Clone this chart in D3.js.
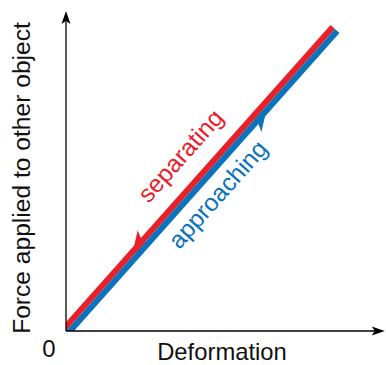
<!DOCTYPE html>
<html><head><meta charset="utf-8">
<script src="https://cdn.jsdelivr.net/npm/d3@7"></script>
<style>html,body{margin:0;padding:0;background:#fff;}svg{display:block;font-family:"Liberation Sans",Arial,Helvetica,sans-serif;}</style>
</head><body><div id="chart"></div>
<script>
// Data (arbitrary units): the loading/unloading line of a linear (elastic) contact
const deformation = [0, 10];
const force = [0, 10];
const seriesNames = ["separating", "approaching"];
const seriesColors = ["#e8202a", "#0b72bc"];
const arrowTip = [2.57, 7.36];          // deformation at which each arrow tip sits
const arrowDir = [-1, 1];               // separating runs down, approaching runs up
const axisLabels = {x: "Deformation", y: "Force applied to other object", origin: "0"};

const W = 386, H = 365;
const svg = d3.select("#chart").append("svg").attr("width", W).attr("height", H);

const x = d3.scaleLinear().domain([0, 10]).range([66, 335]);
const y = d3.scaleLinear().domain([0, 10]).range([331, 29]);
const xEnd = 11.85, yEnd = 10.6;

// geometry helpers
const p0 = [x(deformation[0]), y(force[0])], p1 = [x(deformation[1]), y(force[1])];
const len = Math.hypot(p1[0]-p0[0], p1[1]-p0[1]);
const d = [(p1[0]-p0[0])/len, (p1[1]-p0[1])/len];
const n = [d[1], -d[0]]; // up-left normal
const angle = Math.atan2(d[1], d[0]) * 180 / Math.PI;
const pt = (s, o) => [p0[0] + d[0]*s + n[0]*o, p0[1] + d[1]*s + n[1]*o];

svg.append("clipPath").attr("id", "plotClip").append("rect")
  .attr("x", x(0)).attr("y", 0).attr("width", W - x(0)).attr("height", y(0));

const g = svg.append("g").attr("clip-path", "url(#plotClip)");
const lineGen = d3.line().x((v, i) => x(deformation[i])).y((v, i) => y(v));
const bandOffset = [3, -3];
seriesNames.forEach((name, k) => {
  g.append("path").datum(force)
    .attr("d", lineGen)
    .attr("transform", `translate(${n[0]*bandOffset[k]},${n[1]*bandOffset[k]})`)
    .attr("fill", "none").attr("stroke", seriesColors[k])
    .attr("stroke-width", 6).attr("stroke-linecap", "butt");
});

// half arrowheads on outer side
seriesNames.forEach((name, k) => {
  const tipPx = [x(arrowTip[k]), y(arrowTip[k])];
  const sTip = (tipPx[0]-p0[0])*d[0] + (tipPx[1]-p0[1])*d[1];
  const dir = arrowDir[k], side = k === 0 ? 1 : -1;
  const pts = [
    pt(sTip, side*3),
    pt(sTip - dir*19, side*13.5),
    pt(sTip - dir*15, side*5.5),
    pt(sTip - dir*15, 0),
    pt(sTip - dir*2, 0)
  ];
  g.append("polygon").attr("points", pts.map(p => p.join(",")).join(" "))
    .attr("fill", seriesColors[k]);
});

// axes
svg.append("line").attr("x1", x(0)).attr("y1", y(0)).attr("x2", x(0)).attr("y2", y(yEnd) + 4)
  .attr("stroke", "#000").attr("stroke-width", 1.3);
svg.append("line").attr("x1", x(0)).attr("y1", y(0)).attr("x2", x(xEnd) - 4).attr("y2", y(0))
  .attr("stroke", "#000").attr("stroke-width", 1.3);
// arrowheads on axes
const ay = [x(0), y(yEnd)], ax = [x(xEnd), y(0)];
svg.append("path").attr("d", `M${ay[0]},${ay[1]} L${ay[0]+4.5},${ay[1]+13} L${ay[0]},${ay[1]+10} L${ay[0]-4.5},${ay[1]+13}Z`).attr("fill", "#000");
svg.append("path").attr("d", `M${ax[0]},${ax[1]} L${ax[0]-13},${ax[1]-4.5} L${ax[0]-10},${ax[1]} L${ax[0]-13},${ax[1]+4.5}Z`).attr("fill", "#000");

// axis labels
svg.append("text").attr("x", 222).attr("y", 360).attr("text-anchor", "middle")
  .attr("font-size", 23.8).attr("fill", "#111").text(axisLabels.x);
svg.append("text").attr("transform", `translate(30,178) rotate(-90)`).attr("text-anchor", "middle")
  .attr("font-size", 24.6).attr("fill", "#111").text(axisLabels.y);
svg.append("text").attr("x", 49).attr("y", 357).attr("text-anchor", "middle")
  .attr("font-size", 24).attr("fill", "#111").text(axisLabels.origin);

// series labels along the line
const labelPos = [[207, 22.7], [203, -30.8]];
seriesNames.forEach((name, k) => {
  const p = pt(labelPos[k][0], labelPos[k][1]);
  svg.append("text").attr("transform", `translate(${p[0]},${p[1]}) rotate(${angle})`)
    .attr("text-anchor", "middle").attr("font-size", 24.5).attr("fill", seriesColors[k]).text(name);
});
</script></body></html>
